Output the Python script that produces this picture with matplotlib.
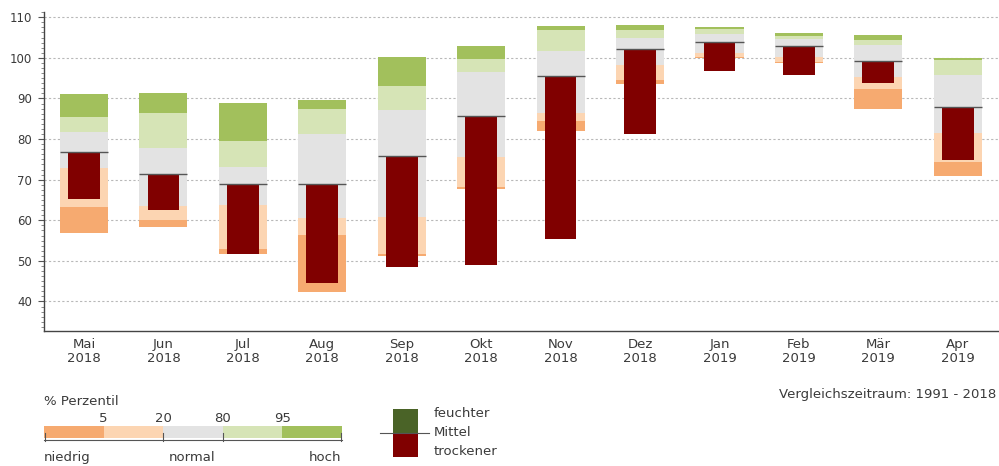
import matplotlib
matplotlib.use("Agg")
import matplotlib.pyplot as plt
from matplotlib.patches import Rectangle
from matplotlib.ticker import MultipleLocator
import numpy as np

plt.rcParams['font.family'] = ['DejaVu Sans']

# Monate und Perzentile (Vergleichszeitraum 1991 - 2018)
monate = ["Mai\n2018", "Jun\n2018", "Jul\n2018", "Aug\n2018", "Sep\n2018", "Okt\n2018",
          "Nov\n2018", "Dez\n2018", "Jan\n2019", "Feb\n2019", "Mär\n2019", "Apr\n2019"]
p_min = [56.8, 58.4, 51.7, 42.4, 51.2, 67.7, 82.0, 93.6, 99.9, 98.7, 87.4, 71.0]
p5    = [63.2, 60.1, 52.9, 56.3, 51.6, 68.2, 84.5, 94.6, 100.3, 99.1, 92.3, 74.4]
p20   = [72.8, 63.4, 63.8, 60.5, 60.7, 75.5, 86.5, 98.3, 101.3, 100.3, 95.2, 81.6]
p80   = [81.8, 77.9, 73.0, 81.3, 87.2, 96.6, 101.8, 104.8, 105.8, 104.6, 103.2, 95.8]
p95   = [85.4, 86.4, 79.5, 87.5, 93.1, 99.8, 106.9, 106.9, 107.0, 105.4, 104.3, 99.5]
p_max = [91.0, 91.3, 88.9, 89.5, 100.3, 103.0, 107.9, 108.2, 107.7, 106.2, 105.6, 100.0]
mittel = [76.7, 71.4, 68.9, 68.9, 75.8, 85.7, 95.5, 102.1, 103.8, 103.0, 99.2, 87.8]
aktuell = [65.2, 62.5, 51.8, 44.6, 48.4, 49.0, 55.3, 81.2, 96.7, 95.7, 93.7, 74.9]

# Farben
C_ORANGE_D = '#f6aa70'
C_ORANGE_H = '#fcd5b2'
C_GRAU = '#e3e3e3'
C_GRUEN_H = '#d6e4b6'
C_GRUEN_D = '#a2c05c'
C_ROT = '#800000'
C_GRUEN_LEG = '#4a6327'
TXT = '#3a3a3a'

fig = plt.figure(figsize=(9.99, 4.66), dpi=100)
ax = fig.add_axes([0.0443, 0.2903, 0.9542, 0.684])

x = np.arange(len(monate))
b = 0.605
grenzen = [p_min, p5, p20, p80, p95, p_max]
farben = [C_ORANGE_D, C_ORANGE_H, C_GRAU, C_GRUEN_H, C_GRUEN_D]
for i, f in enumerate(farben):
    unten = np.array(grenzen[i])
    oben = np.array(grenzen[i + 1])
    ax.bar(x, oben - unten, bottom=unten, width=b, color=f, linewidth=0, zorder=2)

# Abweichung vom Mittel
ax.bar(x, np.array(aktuell) - np.array(mittel), bottom=mittel, width=0.40,
       color=C_ROT, linewidth=0, zorder=3)
ax.hlines(mittel, x - b / 2, x + b / 2, colors='#555555', linewidth=1.0, zorder=4)

ax.set_xlim(-0.5, len(monate) - 0.5)
ax.set_ylim(32.8, 111.3)
ax.set_xticks(x)
ax.set_xticklabels(monate, fontsize=9.5, color=TXT, linespacing=1.15)
ax.tick_params(axis='x', length=0, pad=5)
ax.yaxis.set_minor_locator(MultipleLocator(1.25))
ax.set_yticks(np.arange(40, 111, 10))
ax.tick_params(axis='y', which='major', length=4, width=0.8, color='#555555',
               labelsize=8.5, labelcolor=TXT, pad=5)
ax.tick_params(axis='y', which='minor', length=2, width=0.6, color='#777777')
ax.grid(axis='y', which='major', color='#b8b8b8', linestyle=(0, (2, 2)), linewidth=0.8, zorder=1)
for s in ['top', 'right']:
    ax.spines[s].set_visible(False)
for s in ['left', 'bottom']:
    ax.spines[s].set_color('#444444')
    ax.spines[s].set_linewidth(1.0)

# Legende in Pixelkoordinaten
lg = fig.add_axes([0, 0, 1, 1], zorder=-1)
lg.set_xlim(0, 999)
lg.set_ylim(466, 0)
lg.axis('off')
fs = 9.5

lg.text(44, 405, "% Perzentil", fontsize=fs, color=TXT, va='baseline', ha='left')
kanten = np.linspace(44, 342, 6)
for i, f in enumerate(farben):
    lg.add_patch(Rectangle((kanten[i], 425.5), kanten[i + 1] - kanten[i], 12, color=f, lw=0))
for k, t in zip(kanten[1:5], ["5", "20", "80", "95"]):
    lg.text(k, 421.5, t, fontsize=fs, color=TXT, ha='center', va='baseline')
lg.plot([44, 342], [440, 440], color='#555555', lw=0.8)
for k in [44.5, 163, 222.6, 341]:
    lg.plot([k, k], [433, 441], color='#555555', lw=0.8)
lg.text(44, 461, "niedrig", fontsize=fs, color=TXT, ha='left', va='baseline')
lg.text(192, 461, "normal", fontsize=fs, color=TXT, ha='center', va='baseline')
lg.text(341, 461, "hoch", fontsize=fs, color=TXT, ha='right', va='baseline')

lg.add_patch(Rectangle((393, 408.5), 25, 24, color=C_GRUEN_LEG, lw=0))
lg.add_patch(Rectangle((393, 432.5), 25, 24, color=C_ROT, lw=0))
lg.plot([380, 429], [432.5, 432.5], color='#555555', lw=0.8)
lg.text(434, 417, "feuchter", fontsize=fs, color=TXT, ha='left', va='baseline')
lg.text(434, 436, "Mittel", fontsize=fs, color=TXT, ha='left', va='baseline')
lg.text(434, 455, "trockener", fontsize=fs, color=TXT, ha='left', va='baseline')

lg.text(996, 398, "Vergleichszeitraum: 1991 - 2018", fontsize=fs, color=TXT,
        ha='right', va='baseline')

fig.savefig("out.png", dpi=100)
